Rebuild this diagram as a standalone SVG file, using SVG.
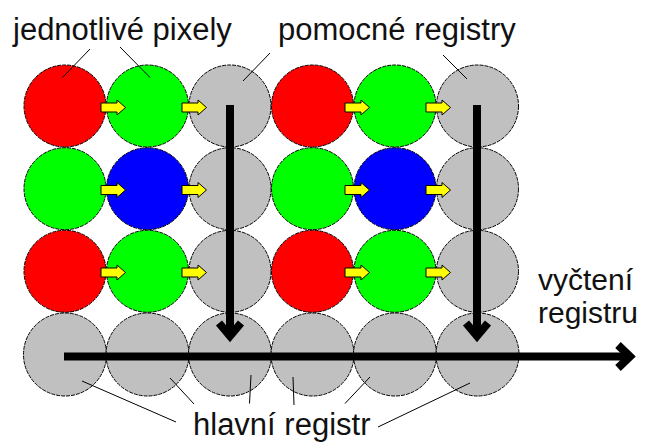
<svg xmlns="http://www.w3.org/2000/svg" xmlns:xlink="http://www.w3.org/1999/xlink" width="645" height="442" viewBox="0 0 645 442">
  <style>
    .px { stroke: #000; stroke-width: 1; stroke-dasharray: 4 1; }
    .red { fill: #FF0000; }
    .green { fill: #00FF00; }
    .blue { fill: #0000FF; }
    .gray { fill: #C0C0C0; }
    .lbl { font-family: "Liberation Sans", Arial, sans-serif; font-size: 31px; fill: #111; }
    .lbl2 { font-family: "Liberation Sans", Arial, sans-serif; font-size: 30px; fill: #111; }
    .lead { stroke: #000; stroke-width: 1; fill: none; }
    .shaft { stroke: #000; stroke-width: 8; fill: none; }
    .head { stroke: #000; stroke-width: 8; fill: none; stroke-linejoin: miter; stroke-miterlimit: 10; }
  </style>
  <defs>
    <path id="ya" d="M0,-4.5 H16 V-7.5 L24.5,0 L16,7.5 V4.5 H0 Z" fill="#FFFF00" stroke="#000" stroke-width="1"/>
  </defs>
  <rect width="645" height="442" fill="#fff"/>

  <g id="nodes">
    <g id="r1c1"><circle class="px red" cx="65" cy="106" r="41"/></g>
    <g id="r1c2"><circle class="px green" cx="147.5" cy="106" r="41"/></g>
    <g id="r1c3"><circle class="px gray" cx="230" cy="106" r="41"/></g>
    <g id="r1c4"><circle class="px red" cx="312.5" cy="106" r="41"/></g>
    <g id="r1c5"><circle class="px green" cx="395" cy="106" r="41"/></g>
    <g id="r1c6"><circle class="px gray" cx="477.5" cy="106" r="41"/></g>

    <g id="r2c1"><circle class="px green" cx="65" cy="188.7" r="41"/></g>
    <g id="r2c2"><circle class="px blue" cx="147.5" cy="188.7" r="41"/></g>
    <g id="r2c3"><circle class="px gray" cx="230" cy="188.7" r="41"/></g>
    <g id="r2c4"><circle class="px green" cx="312.5" cy="188.7" r="41"/></g>
    <g id="r2c5"><circle class="px blue" cx="395" cy="188.7" r="41"/></g>
    <g id="r2c6"><circle class="px gray" cx="477.5" cy="188.7" r="41"/></g>

    <g id="r3c1"><circle class="px red" cx="65" cy="271.3" r="41"/></g>
    <g id="r3c2"><circle class="px green" cx="147.5" cy="271.3" r="41"/></g>
    <g id="r3c3"><circle class="px gray" cx="230" cy="271.3" r="41"/></g>
    <g id="r3c4"><circle class="px red" cx="312.5" cy="271.3" r="41"/></g>
    <g id="r3c5"><circle class="px green" cx="395" cy="271.3" r="41"/></g>
    <g id="r3c6"><circle class="px gray" cx="477.5" cy="271.3" r="41"/></g>

    <g id="r4c1"><circle class="px gray" cx="65" cy="354.5" r="41.5"/></g>
    <g id="r4c2"><circle class="px gray" cx="147.5" cy="354.5" r="41.5"/></g>
    <g id="r4c3"><circle class="px gray" cx="230" cy="354.5" r="41.5"/></g>
    <g id="r4c4"><circle class="px gray" cx="312.5" cy="354.5" r="41.5"/></g>
    <g id="r4c5"><circle class="px gray" cx="395" cy="354.5" r="41.5"/></g>
    <g id="r4c6"><circle class="px gray" cx="477.5" cy="354.5" r="41.5"/></g>
  </g>

  <g id="connectors">
    <g id="shifts">
      <use xlink:href="#ya" x="101" y="107.5"/>
      <use xlink:href="#ya" x="182" y="107.5"/>
      <use xlink:href="#ya" x="345" y="107.5"/>
      <use xlink:href="#ya" x="426" y="107.5"/>
      <use xlink:href="#ya" x="101" y="190"/>
      <use xlink:href="#ya" x="182" y="190"/>
      <use xlink:href="#ya" x="345" y="190"/>
      <use xlink:href="#ya" x="426" y="190"/>
      <use xlink:href="#ya" x="101" y="272.5"/>
      <use xlink:href="#ya" x="182" y="272.5"/>
      <use xlink:href="#ya" x="345" y="272.5"/>
      <use xlink:href="#ya" x="426" y="272.5"/>
    </g>
    <g id="transfer-arrows">
      <line class="shaft" x1="230" y1="105" x2="230" y2="334"/>
      <polyline class="head" points="219,323 230,336 241,323"/>
      <line class="shaft" x1="477" y1="105" x2="477" y2="334"/>
      <polyline class="head" points="466,323 477,336 488,323"/>
      <line class="shaft" x1="64" y1="356.5" x2="628" y2="356.5"/>
      <polyline class="head" points="618,345 630,356.5 618,368"/>
    </g>
    <g id="leaders">
      <line class="lead" x1="90" y1="49" x2="62.5" y2="77.5"/>
      <line class="lead" x1="120" y1="47" x2="150" y2="77.5"/>
      <line class="lead" x1="270" y1="53" x2="243" y2="81"/>
      <line class="lead" x1="443" y1="55" x2="467" y2="79"/>
      <line class="lead" x1="82" y1="381" x2="176" y2="422"/>
      <line class="lead" x1="170" y1="378" x2="194" y2="404"/>
      <line class="lead" x1="251" y1="375" x2="249.5" y2="403.5"/>
      <line class="lead" x1="293" y1="377" x2="294" y2="405"/>
      <line class="lead" x1="370" y1="377" x2="345" y2="403.5"/>
      <line class="lead" x1="470" y1="383" x2="378" y2="427"/>
    </g>
  </g>

  <g id="label-pixely"><text class="lbl" x="13" y="40">jednotlivé pixely</text></g>
  <g id="label-pomocne"><text class="lbl" x="278" y="40">pomocné registry</text></g>
  <g id="label-vycteni"><text class="lbl2" x="538" y="290">vyčtení</text><text class="lbl2" x="538" y="323">registru</text></g>
  <g id="label-hlavni"><text class="lbl" x="193" y="435">hlavní registr</text></g>
</svg>
